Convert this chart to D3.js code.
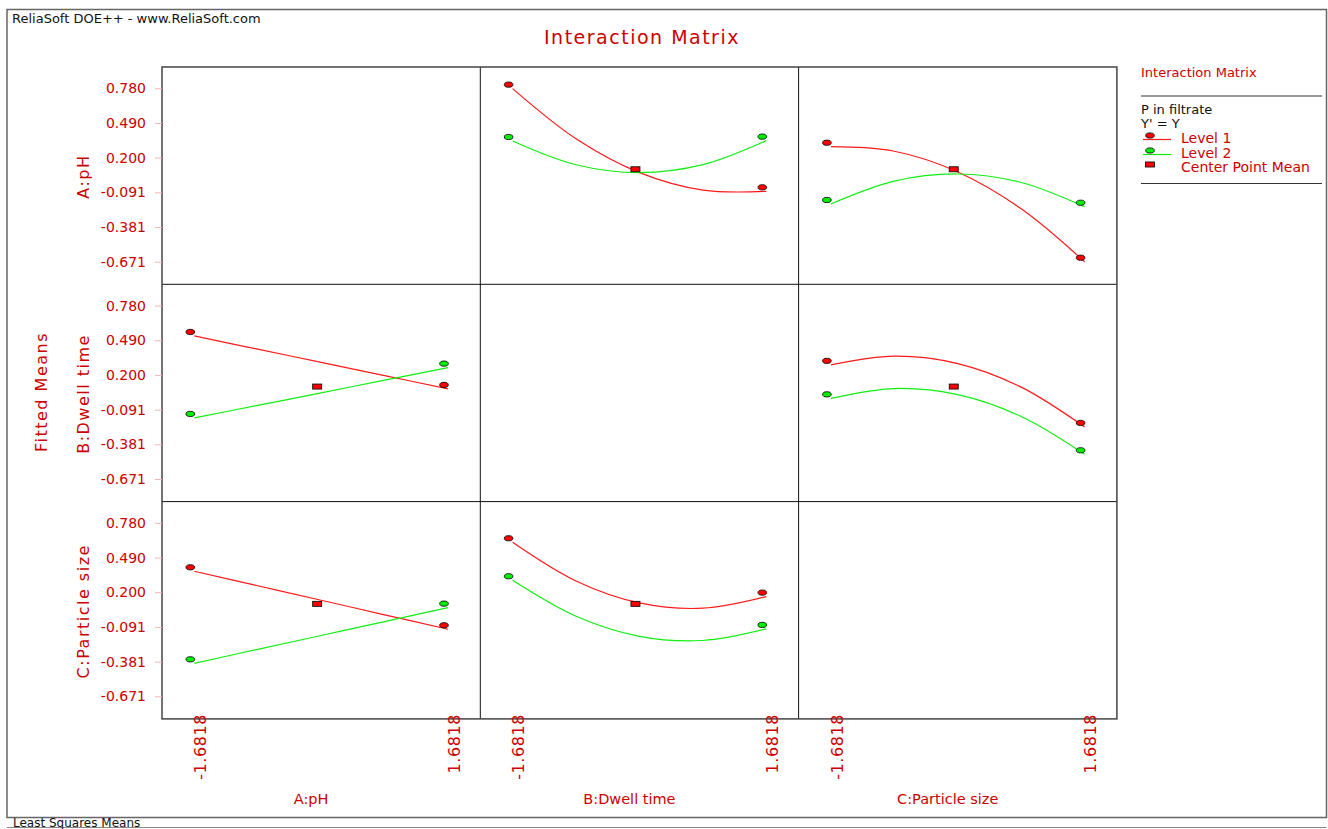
<!DOCTYPE html>
<html>
<head>
<meta charset="utf-8">
<script src="https://cdn.jsdelivr.net/npm/d3@7"></script>
<style>
  html, body { margin: 0; padding: 0; background: #fff; }
  svg { display: block; font-family: "DejaVu Sans", Verdana, sans-serif; }
</style>
</head>
<body>
<svg id="chart" width="1328" height="829"></svg>
<script>
// Factors and levels of the design
const factorNames = ["A:pH", "B:Dwell time", "C:Particle size"];
const levelNames = ["Level 1", "Level 2", "Center Point Mean"];

// Coded settings where the fitted means are evaluated
const xLevels = [-1.6818, -0.8409, 0, 0.8409, 1.6818];
const xTickValues = [-1.6818, 1.6818];
const yTickValues = [0.780, 0.490, 0.200, -0.091, -0.381, -0.671];

// Fitted mean at the center point
const centerPointMean = 0.069;

// Row factor held at Level 1 / Level 2, column factor on the x axis
const A_B_level1 = [0.777, 0.357, 0.074, -0.072, -0.082];
const A_B_level2 = [0.339, 0.140, 0.074, 0.141, 0.342];
const A_C_level1 = [0.291, 0.253, 0.080, -0.228, -0.671];
const A_C_level2 = [-0.188, 0.003, 0.063, -0.008, -0.211];
const B_A_level1 = [0.526, 0.415, 0.305, 0.194, 0.083];
const B_A_level2 = [-0.160, -0.055, 0.050, 0.156, 0.261];
const B_C_level1 = [0.284, 0.357, 0.295, 0.098, -0.235];
const B_C_level2 = [0.004, 0.086, 0.035, -0.148, -0.464];
const C_A_level1 = [0.375, 0.254, 0.133, 0.011, -0.110];
const C_A_level2 = [-0.395, -0.278, -0.162, -0.046, 0.071];
const C_B_level1 = [0.618, 0.294, 0.110, 0.066, 0.163];
const C_B_level2 = [0.300, -0.001, -0.169, -0.204, -0.107];

const panels = [
  { row: 0, col: 1, level1: A_B_level1, level2: A_B_level2 },
  { row: 0, col: 2, level1: A_C_level1, level2: A_C_level2 },
  { row: 1, col: 0, level1: B_A_level1, level2: B_A_level2 },
  { row: 1, col: 2, level1: B_C_level1, level2: B_C_level2 },
  { row: 2, col: 0, level1: C_A_level1, level2: C_A_level2 },
  { row: 2, col: 1, level1: C_B_level1, level2: C_B_level2 }
];

const TEXT_RED = "#cc0000";
const LINE_RED = "#ff1a1a";
const LINE_GREEN = "#11ee11";
const MARK_RED = "#ff0000";
const MARK_GREEN = "#00ee00";

// Number formats with a plain hyphen for negatives
const locale = d3.formatLocale({ decimal: ".", thousands: ",", grouping: [3], currency: ["", ""], minus: "-" });
const fmtY = locale.format(".3f");
const fmtX = locale.format(".4f");

const svg = d3.select("#chart");
const grid = { left: 162, top: 67, cellW: 318.3, cellH: 217.3 };

const x = d3.scaleLinear().domain([-2.11, 2.11]).range([0, grid.cellW]);
const y = d3.scaleLinear().domain([-0.86, 0.958]).range([grid.cellH, 0]);

// Page frame, header and footer
svg.append("rect")
  .attr("x", 7).attr("y", 9.5).attr("width", 1319.5).attr("height", 808)
  .attr("fill", "none").attr("stroke", "#666").attr("stroke-width", 1.5);
svg.append("text").attr("x", 12).attr("y", 22.5)
  .attr("font-size", 13).attr("fill", "#111")
  .text("ReliaSoft DOE++ - www.ReliaSoft.com");
svg.append("line").attr("x1", 7).attr("x2", 1326.5).attr("y1", 827.5).attr("y2", 827.5)
  .attr("stroke", "#888").attr("stroke-width", 1.2);
svg.append("text").attr("x", 13).attr("y", 826.5)
  .attr("font-size", 12).attr("fill", "#111")
  .text("Least Squares Means");

// Title
svg.append("text").attr("x", 642).attr("y", 44)
  .attr("text-anchor", "middle").attr("font-size", 19).attr("letter-spacing", 1.5)
  .attr("fill", TEXT_RED).text("Interaction Matrix");

// Cell grid
const gridW = grid.cellW * 3, gridH = grid.cellH * 3;
const gridG = svg.append("g").attr("transform", `translate(${grid.left},${grid.top})`);
[1, 2].forEach(i => {
  gridG.append("line")
    .attr("x1", i * grid.cellW).attr("x2", i * grid.cellW)
    .attr("y1", 0).attr("y2", gridH)
    .attr("stroke", "#111").attr("stroke-width", 1);
  gridG.append("line")
    .attr("x1", 0).attr("x2", gridW)
    .attr("y1", i * grid.cellH).attr("y2", i * grid.cellH)
    .attr("stroke", "#111").attr("stroke-width", 1);
});
gridG.append("rect")
  .attr("width", gridW).attr("height", gridH)
  .attr("fill", "none").attr("stroke", "#444").attr("stroke-width", 1.5);

// Y axes, one per row
for (let r = 0; r < 3; r++) {
  const ax = svg.append("g")
    .attr("transform", `translate(${grid.left},${grid.top + r * grid.cellH})`)
    .call(d3.axisLeft(y).tickValues(yTickValues).tickFormat(fmtY)
      .tickSize(7).tickPadding(9));
  ax.select(".domain").remove();
  ax.selectAll(".tick line").attr("stroke", "#f2b4b4");
  ax.selectAll(".tick text")
    .attr("fill", TEXT_RED).attr("font-size", 14)
    .attr("font-family", "DejaVu Sans, Verdana, sans-serif");

  svg.append("text")
    .attr("transform", `translate(83,${grid.top + r * grid.cellH + grid.cellH / 2 + 1}) rotate(-90)`)
    .attr("dy", "0.35em").attr("text-anchor", "middle")
    .attr("font-size", 16).attr("letter-spacing", 1.5)
    .attr("fill", TEXT_RED).text(factorNames[r]);
}

svg.append("text")
  .attr("transform", `translate(41.5,392) rotate(-90)`)
  .attr("dy", "0.35em").attr("text-anchor", "middle")
  .attr("font-size", 16).attr("letter-spacing", 1.5)
  .attr("fill", TEXT_RED).text("Fitted Means");

// X tick labels and titles, one per column
const bottom = grid.top + gridH;
for (let c = 0; c < 3; c++) {
  const x0 = grid.left + c * grid.cellW;
  xTickValues.forEach(v => {
    svg.append("text")
      .attr("transform", `translate(${x0 + x(v) + 6},${bottom - 5}) rotate(-90)`)
      .attr("dy", "0.35em").attr("text-anchor", "end")
      .attr("font-size", 16).attr("letter-spacing", 0.6)
      .attr("fill", TEXT_RED).text(fmtX(v));
  });
  svg.append("text")
    .attr("x", x0 + grid.cellW / 2 - 10).attr("y", 804)
    .attr("text-anchor", "middle").attr("font-size", 14.5)
    .attr("fill", TEXT_RED).text(factorNames[c]);
}

// Fitted curves and markers
const line = d3.line()
  .x(d => x(d[0])).y(d => y(d[1]))
  .curve(d3.curveCatmullRom.alpha(0.5));

function ellipseMark(g, cx, cy, fill) {
  g.append("ellipse")
    .attr("cx", cx - 4).attr("cy", cy - 4)
    .attr("rx", 4.3).attr("ry", 2.6)
    .attr("fill", fill).attr("stroke", "#111").attr("stroke-width", 0.9);
}

panels.forEach(p => {
  const g = svg.append("g")
    .attr("transform", `translate(${grid.left + p.col * grid.cellW},${grid.top + p.row * grid.cellH})`);
  const series = [
    { vals: p.level1, stroke: LINE_RED, fill: MARK_RED },
    { vals: p.level2, stroke: LINE_GREEN, fill: MARK_GREEN }
  ];
  series.forEach(s => {
    g.append("path")
      .attr("d", line(xLevels.map((xv, i) => [xv, s.vals[i]])))
      .attr("fill", "none").attr("stroke", s.stroke).attr("stroke-width", 1.2);
  });
  series.forEach(s => {
    ellipseMark(g, x(xLevels[0]), y(s.vals[0]), s.fill);
    ellipseMark(g, x(xLevels[xLevels.length - 1]), y(s.vals[s.vals.length - 1]), s.fill);
  });
  g.append("rect")
    .attr("x", x(0) - 4 - 4.5).attr("y", y(centerPointMean) - 4 - 2.5)
    .attr("width", 9).attr("height", 5)
    .attr("fill", MARK_RED).attr("stroke", "#111").attr("stroke-width", 0.9);
});

// Legend
const lg = svg.append("g");
lg.append("text").attr("x", 1141).attr("y", 77)
  .attr("font-size", 13).attr("fill", TEXT_RED).text("Interaction Matrix");
lg.append("line").attr("x1", 1141).attr("x2", 1322).attr("y1", 96).attr("y2", 96)
  .attr("stroke", "#333").attr("stroke-width", 1.2);
lg.append("text").attr("x", 1141).attr("y", 114)
  .attr("font-size", 13).attr("fill", "#111").text("P in filtrate");
lg.append("text").attr("x", 1141).attr("y", 127.5)
  .attr("font-size", 13).attr("fill", "#111").text("Y' = Y");

const legendRows = [
  { label: levelNames[0], stroke: LINE_RED, fill: MARK_RED, yy: 139.5, kind: "line" },
  { label: levelNames[1], stroke: LINE_GREEN, fill: MARK_GREEN, yy: 154.5, kind: "line" },
  { label: levelNames[2], stroke: null, fill: MARK_RED, yy: 169, kind: "rect" }
];
legendRows.forEach(d => {
  if (d.kind === "line") {
    lg.append("line").attr("x1", 1143).attr("x2", 1171).attr("y1", d.yy).attr("y2", d.yy)
      .attr("stroke", d.stroke).attr("stroke-width", 1.2);
    lg.append("ellipse").attr("cx", 1150).attr("cy", d.yy - 4)
      .attr("rx", 4.3).attr("ry", 2.6)
      .attr("fill", d.fill).attr("stroke", "#111").attr("stroke-width", 0.9);
  } else {
    lg.append("rect").attr("x", 1145.5).attr("y", d.yy - 7)
      .attr("width", 9).attr("height", 5)
      .attr("fill", d.fill).attr("stroke", "#111").attr("stroke-width", 0.9);
  }
  lg.append("text").attr("x", 1181).attr("y", d.yy + 3)
    .attr("font-size", 14).attr("fill", TEXT_RED).text(d.label);
});
lg.append("line").attr("x1", 1141).attr("x2", 1322).attr("y1", 183.5).attr("y2", 183.5)
  .attr("stroke", "#333").attr("stroke-width", 1.2);
</script>
</body>
</html>
